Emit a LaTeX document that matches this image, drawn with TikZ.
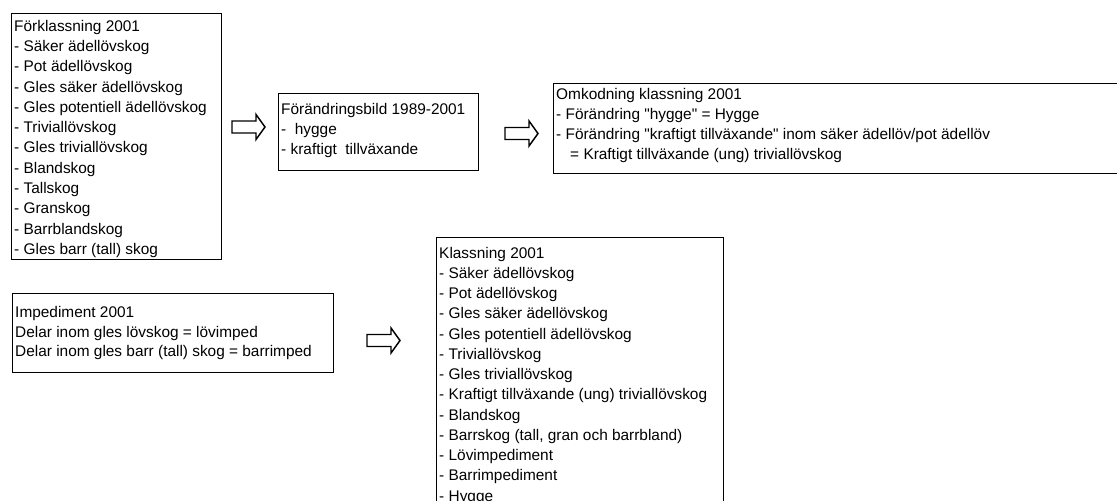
\documentclass[tikz,border=0pt]{standalone}
\usepackage{fontspec}
\setmainfont{Liberation Sans}[Ligatures=TeXOff]
\newdimen\pxu \pxu=0.75pt
\newcommand{\boxcontent}[5]{%
  \begin{minipage}[t][#2\pxu][t]{#1\pxu}%
  \fontsize{11.55pt}{15.2pt}\selectfont\baselineskip=#4\pxu
  \leftskip=2.5\pxu\rightskip=0pt plus 1fil
  \rule{0pt}{#3\pxu}#5\par
  \end{minipage}}
\tikzset{
  box/.style={draw, line width=1.1pt, inner sep=0pt, anchor=north west},
  blockarrow/.pic={
    \draw[line width=1.1pt, line join=miter]
      (-16.5,-6) -- (7.5,-6) -- (7.5,-12.5) -- (16.5,0) -- (7.5,12.5)
      -- (7.5,6) -- (-16.5,6) -- cycle;
  },
}
\begin{document}
\begin{tikzpicture}[x=0.75pt, y=-0.75pt]
\fill[white] (0,0) rectangle (1117,500);
\useasboundingbox (0,0) rectangle (1117,500);

\node[box] (b1) at (11,13) {\boxcontent{210}{246}{17.4}{20.3}{%
Förklassning 2001\\
- Säker ädellövskog\\
- Pot ädellövskog\\
- Gles säker ädellövskog\\
- Gles potentiell ädellövskog\\
- Triviallövskog\\
- Gles triviallövskog\\
- Blandskog\\
- Tallskog\\
- Granskog\\
- Barrblandskog\\
- Gles barr (tall) skog}};

\node[box] (b2) at (278,93) {\boxcontent{200}{77}{20.4}{20}{%
Förändringsbild 1989-2001\\
- \ hygge\\
- kraftigt \ tillväxande}};

\node[box] (b3) at (553,83) {\boxcontent{620}{90}{15.4}{20}{%
Omkodning klassning 2001\\
- Förändring "hygge" = Hygge\\
- Förändring "kraftigt tillväxande" inom säker ädellöv/pot ädellöv\\
\hspace*{14\pxu}= Kraftigt tillväxande (ung) triviallövskog}};

\node[box] (b4) at (12,293) {\boxcontent{321}{79}{24}{19.6}{%
Impediment 2001\\
Delar inom gles lövskog = lövimped\\
Delar inom gles barr (tall) skog = barrimped}};

\node[box] (b5) at (436,237) {\boxcontent{287}{290}{20.4}{20.25}{%
Klassning 2001\\
- Säker ädellövskog\\
- Pot ädellövskog\\
- Gles säker ädellövskog\\
- Gles potentiell ädellövskog\\
- Triviallövskog\\
- Gles triviallövskog\\
- Kraftigt tillväxande (ung) triviallövskog\\
- Blandskog\\
- Barrskog (tall, gran och barrbland)\\
- Lövimpediment\\
- Barrimpediment\\
- Hygge}};

\pic (a1) at (248.5,127) {blockarrow};
\pic (a2) at (521.5,133.5) {blockarrow};
\pic (a3) at (383.5,340.5) {blockarrow};
\end{tikzpicture}
\end{document}
